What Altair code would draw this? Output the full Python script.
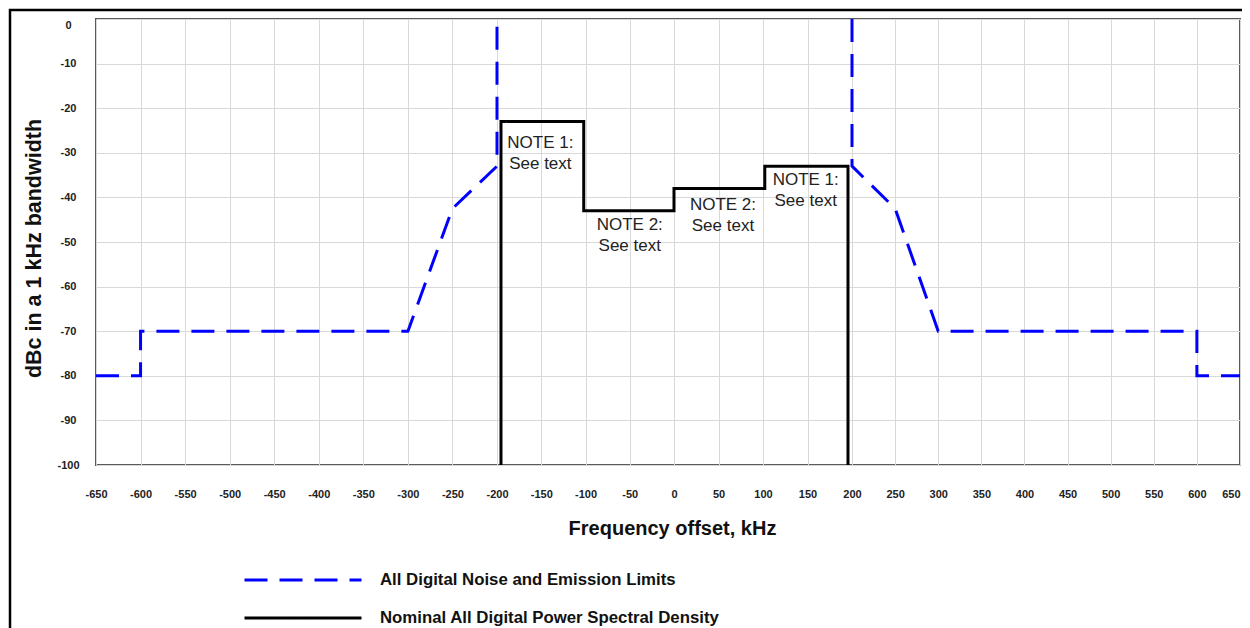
import altair as alt
import pandas as pd

LIMIT = "All Digital Noise and Emission Limits"
PSD = "Nominal All Digital Power Spectral Density"

# Emission limit mask (two branches, dashed blue)
limit_left_f = [-650, -600, -600, -300, -250, -200, -200]
limit_left_db = [-80, -80, -70, -70, -42.5, -33, 0]
limit_right_f = [200, 200, 250, 300, 600, 600, 650]
limit_right_db = [0, -33, -42.5, -70, -70, -80, -80]

# Nominal PSD (solid black)
psd_f = [-195.5, -195.5, -102, -102, 0, 0, 102, 102, 195.5, 195.5]
psd_db = [-100, -23, -23, -43, -43, -38, -38, -33, -33, -100]

# Notes
note_text = ["NOTE 1:\nSee text", "NOTE 2:\nSee text", "NOTE 2:\nSee text", "NOTE 1:\nSee text"]
note_f = [-151, -50, 55, 148]
note_db = [-27.8, -46.2, -41.7, -36.1]

x_ticks = list(range(-650, 651, 50))
y_ticks = list(range(0, -101, -10))

# The reference axis is slightly non-uniform (left half wider than right half)
x_breaks = [-650, -200, 0, 200, 650]
x_break_px = [0, 401, 578, 756, 1144]

rows = []
for seg, (fs, ds, ser) in enumerate([
    (limit_left_f, limit_left_db, LIMIT),
    (limit_right_f, limit_right_db, LIMIT),
    (psd_f, psd_db, PSD),
]):
    for i, (f, d) in enumerate(zip(fs, ds)):
        rows.append({"f": f, "db": d, "series": ser, "seg": seg, "idx": i})
df = pd.DataFrame(rows)
notes = pd.DataFrame({"f": note_f, "db": note_db, "t": note_text})

FONT = "Liberation Sans"

x_scale = alt.Scale(domain=x_breaks, range=x_break_px, nice=False, zero=False)
y_scale = alt.Scale(domain=[-100, 0], nice=False, zero=False)

x_axis = alt.Axis(
    values=x_ticks, labelExpr="'' + datum.value", title="Frequency offset, kHz",
    grid=True, gridColor="#d9d9d9", gridWidth=1, domain=False, ticks=False,
    labelFont=FONT, labelFontWeight="bold", labelFontSize=11, labelColor="#222",
    labelPadding=29, labelBaseline="middle", labelFlush=False, labelOverlap=False,
    labelAlign=alt.condition("datum.value == 650", alt.value("right"), alt.value("center")),
    titleFont=FONT, titleFontSize=20, titleFontWeight="bold", titleColor="#111",
    titleX=576, titleY=63, titleBaseline="middle", titleAlign="center",
)
y_axis = alt.Axis(
    values=y_ticks, labelExpr="'' + datum.value", title="dBc in a 1 kHz bandwidth",
    grid=True, gridColor="#d9d9d9", gridWidth=1, domain=False, ticks=False,
    labelFont=FONT, labelFontWeight="bold", labelFontSize=11, labelColor="#222",
    labelPadding=28, labelAlign="center", labelFlush=False,
    labelBaseline=alt.condition("datum.value == 0", alt.value("top"), alt.value("middle")),
    titleFont=FONT, titleFontSize=21.5, titleFontWeight="bold", titleColor="#111",
    titleX=-61.5, titleY=229, titleBaseline="middle", titleAlign="center", titleAngle=-90,
)

legend = alt.Legend(
    title=None, orient="none", legendX=147, legendY=551, direction="vertical",
    symbolType="stroke", symbolSize=13689, symbolStrokeWidth=3, clipHeight=20,
    rowPadding=18, labelOffset=17, padding=0,
    labelFont=FONT, labelFontSize=16.8, labelFontWeight="bold", labelColor="#111",
    labelLimit=800,
)

lines = alt.Chart(df).mark_line(strokeWidth=3, strokeCap="butt", strokeJoin="miter").encode(
    x=alt.X("f:Q", scale=x_scale, axis=x_axis),
    y=alt.Y("db:Q", scale=y_scale, axis=y_axis),
    color=alt.Color("series:N", scale=alt.Scale(domain=[LIMIT, PSD], range=["#0000ff", "#000000"]), legend=legend),
    strokeDash=alt.StrokeDash("series:N", scale=alt.Scale(domain=[LIMIT, PSD], range=[[23, 12], [1, 0]]), legend=legend),
    detail="seg:N",
    order="idx:Q",
)

texts = alt.Chart(notes).mark_text(
    lineBreak="\n", font=FONT, fontSize=17, color="#222", align="center",
    baseline="middle", lineHeight=21,
).encode(
    x=alt.X("f:Q", scale=x_scale),
    y=alt.Y("db:Q", scale=y_scale),
    text="t:N",
)

frame = alt.Chart(pd.DataFrame({"a": [0]})).mark_rect(
    fillOpacity=0, stroke="#000000", strokeWidth=2.5
).encode(
    x=alt.value(-86), x2=alt.value(3000), y=alt.value(-9), y2=alt.value(3000)
)

chart = alt.layer(lines, texts, frame).properties(
    width=1144, height=446,
    autosize=alt.AutoSizeParams(type="none"),
    padding={"left": 88, "top": 11, "right": 2, "bottom": 163},
    background="white",
).configure_view(stroke="#595959", strokeWidth=2)

chart.save("out.html", embed_options={"renderer": "svg", "actions": False})
